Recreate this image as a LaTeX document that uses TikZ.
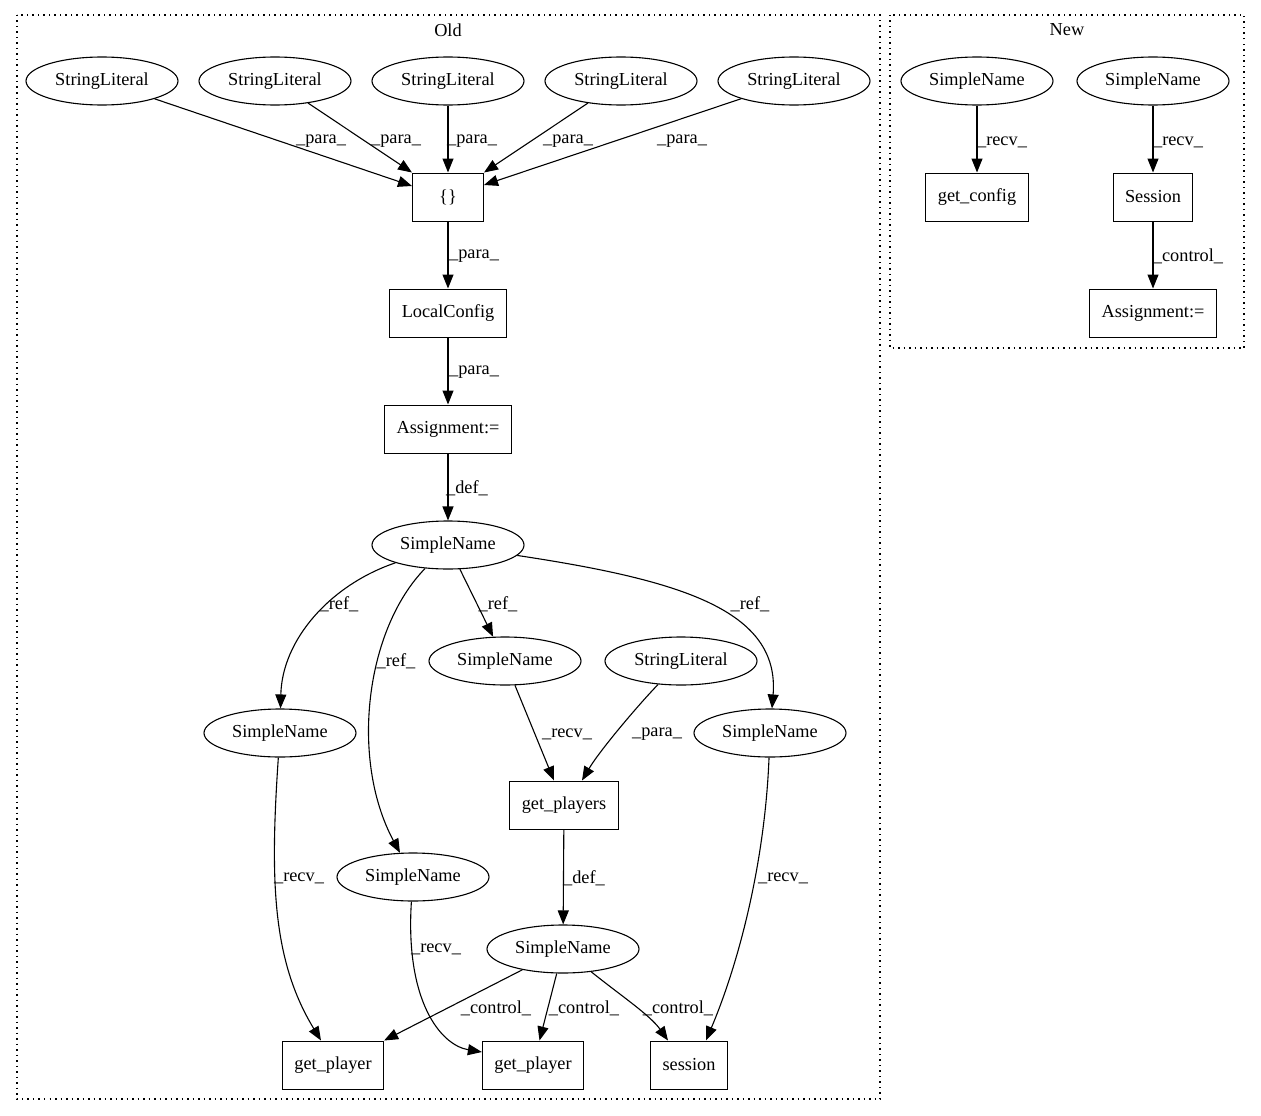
\documentclass[tikz,border=0pt]{standalone}
\usepackage{fontspec}
\setmainfont{Liberation Serif}
\usetikzlibrary{shapes.geometric,arrows.meta}
\begin{document}
\begin{tikzpicture}[x=1pt,y=-1pt,
 every node/.style={font=\fontsize{18.3}{20}\selectfont},
 ell/.style={draw, ellipse, line width=1.1pt, minimum width=152pt, minimum height=48pt, inner sep=0pt},
 box/.style={draw, rectangle, line width=1pt, minimum height=48pt, inner xsep=12pt, minimum width=71pt},
 lbl/.style={inner sep=0pt},
 arr/.style={line width=1.1pt, -{Triangle[length=14pt,width=11pt]}},
 cluster/.style={line width=1.2pt, dash pattern=on 1.5pt off 4pt}]
\fill[white] (0,0) rectangle (1261,1116);
\useasboundingbox (0,0) rectangle (1261,1116);
% clusters
\draw[cluster] (17,15) rectangle (880,1099);
\node (oldlbl) at (448,30) {Old};
\draw[cluster] (890,15) rectangle (1244,348);
\node (newlbl) at (1067,30) {New};
% Old nodes
\node[ell] (s1) at (102,81) {StringLiteral};
\node[ell] (s2) at (275,81) {StringLiteral};
\node[ell] (s3) at (448,81) {StringLiteral};
\node[ell] (s4) at (621,81) {StringLiteral};
\node[ell] (s5) at (794,81) {StringLiteral};
\node[box] (br) at (448,197) {\{\}};
\node[box] (lc) at (448,313) {LocalConfig};
\node[box] (as) at (448,429) {Assignment:=};
\node[ell] (sn) at (448,545) {SimpleName};
\node[ell] (snm) at (505,661) {SimpleName};
\node[ell] (sl6) at (681,661) {StringLiteral};
\node[ell] (snl) at (280,733) {SimpleName};
\node[ell] (snr) at (770,733) {SimpleName};
\node[box] (gps) at (564,805) {get\_players};
\node[ell] (snc) at (413,877) {SimpleName};
\node[ell] (snb) at (563,949) {SimpleName};
\node[box] (gp1) at (333,1065) {get\_player};
\node[box] (gp2) at (533,1065) {get\_player};
\node[box] (ses) at (689,1065) {session};
% New nodes
\node[ell] (n1) at (977,81) {SimpleName};
\node[ell] (n2) at (1153,81) {SimpleName};
\node[box] (gc) at (977,197) {get\_config};
\node[box] (Ses) at (1153,197) {Session};
\node[box] (as2) at (1153,313) {Assignment:=};
% Old edges
\draw[arr] (s1) -- ([yshift=11pt]br.west);
\draw[arr] (s2) -- (br.north west);
\draw[arr] (s3) -- (br);
\draw[arr] (s4) -- (br.north east);
\draw[arr] (s5) -- ([yshift=12pt]br.east);
\draw[arr] (br) -- (lc);
\draw[arr] (lc) -- (as);
\draw[arr] (as) -- (sn);
\draw[arr] (sn) .. controls (330,585) and (282,640) .. (snl);
\draw[arr] (sn) .. controls (365,630) and (350,760) .. (snc);
\draw[arr] (sn) -- (snm);
\draw[arr] (sn) .. controls (680,580) and (780,610) .. (snr);
\draw[arr] (snm) -- (gps);
\draw[arr] (sl6) .. controls (640,703) and (600,750) .. ([xshift=18pt]gps.north);
\draw[arr] (gps) -- (snb);
\draw[arr] (snl) .. controls (270,880) and (272,960) .. ([xshift=-12pt]gp1.north);
\draw[arr] (snc) .. controls (405,1000) and (440,1045) .. ([yshift=13pt]gp2.west);
\draw[arr] (snr) .. controls (765,860) and (740,960) .. ([xshift=17pt]ses.north);
\draw[arr] (snb) -- (gp1.north east);
\draw[arr] (snb) -- ([xshift=6.5pt]gp2.north);
\draw[arr] (snb) .. controls (620,995) and (650,1015) .. ([xshift=-21pt]ses.north);
% New edges
\draw[arr] (n1) -- (gc);
\draw[arr] (n2) -- (Ses);
\draw[arr] (Ses) -- (as2);
% labels
\node[lbl] (l1) at (321,141) {\_para\_};
\node[lbl] (l2) at (396,141) {\_para\_};
\node[lbl] (l3) at (472,141) {\_para\_};
\node[lbl] (l4) at (568,141) {\_para\_};
\node[lbl] (l5) at (682,141) {\_para\_};
\node[lbl] (l6) at (474,256) {\_para\_};
\node[lbl] (l7) at (474,372) {\_para\_};
\node[lbl] (l8) at (467,488) {\_def\_};
\node[lbl] (l9) at (339,604) {\_ref\_};
\node[lbl] (l10) at (396,661) {\_ref\_};
\node[lbl] (l11) at (498,604) {\_ref\_};
\node[lbl] (l12) at (750,604) {\_ref\_};
\node[lbl] (l13) at (567,734) {\_recv\_};
\node[lbl] (l14) at (657,734) {\_para\_};
\node[lbl] (l15) at (299,878) {\_recv\_};
\node[lbl] (l16) at (584,878) {\_def\_};
\node[lbl] (l17) at (783,878) {\_recv\_};
\node[lbl] (l18) at (436,949) {\_recv\_};
\node[lbl] (l19) at (496,1008) {\_control\_};
\node[lbl] (l20) at (584,1008) {\_control\_};
\node[lbl] (l21) at (678,1008) {\_control\_};
\node[lbl] (l22) at (1002,142) {\_recv\_};
\node[lbl] (l23) at (1178,142) {\_recv\_};
\node[lbl] (l24) at (1188,256) {\_control\_};
\end{tikzpicture}
\end{document}
